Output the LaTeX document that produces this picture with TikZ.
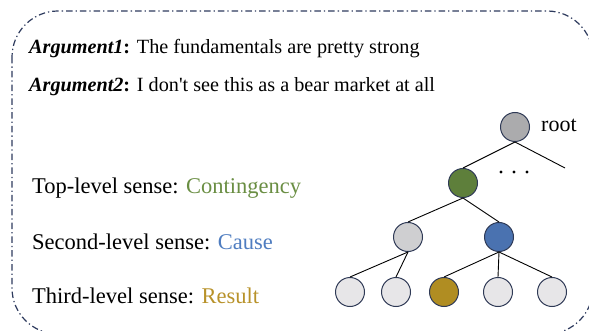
\documentclass[tikz,border=0pt]{standalone}
\usepackage{fontspec}
\setmainfont{Liberation Serif}
\newfontfamily\plainserif{Liberation Serif}
\definecolor{bordercol}{HTML}{2E3B5E}
\definecolor{nodeline}{HTML}{2F3A56}
\definecolor{rootfill}{HTML}{ABABAD}
\definecolor{greenfill}{HTML}{5E7F3B}
\definecolor{midgray}{HTML}{CFCFD1}
\definecolor{bluefill}{HTML}{4A72B0}
\definecolor{goldfill}{HTML}{B08D22}
\definecolor{leaffill}{HTML}{E7E6E8}
\definecolor{conttext}{HTML}{6A8E43}
\definecolor{causetext}{HTML}{4F7DC0}
\definecolor{resulttext}{HTML}{B8922A}
\tikzset{
  framebox/.style={draw=bordercol, line width=1.2pt, rounded corners=46pt,
    dash pattern=on 6.5pt off 3pt on 1.3pt off 3pt},
  treenode/.style={circle, draw=nodeline, line width=1pt, minimum size=29pt, inner sep=0pt},
  edge/.style={draw=black, line width=0.9pt},
  argtext/.style={anchor=base west, inner sep=0pt, font=\fontsize{20.2}{24}\selectfont},
  senselabel/.style={anchor=base west, inner sep=0pt, font=\fontsize{22.5}{27}\selectfont},
}
\begin{document}
\begin{tikzpicture}[x=1pt,y=-1pt]
\useasboundingbox (0,0) rectangle (589,331);
\draw[framebox] (12,11) rectangle (593,334);

\node[argtext] (arg1) at (29,54) {\textbf{\textit{Argument1}}\textbf{:} The fundamentals are pretty strong};
\node[argtext] (arg2) at (29,92) {\textbf{\textit{Argument2}}\textbf{:} {\plainserif I don't see this as a bear market at all}};

\node[senselabel] (top) at (32,194) {Top-level sense: \textcolor{conttext}{Contingency}};
\node[senselabel] (second) at (32,249) {Second-level sense: \textcolor{causetext}{Cause}};
\node[senselabel] (third) at (32,303) {Third-level sense: \textcolor{resulttext}{Result}};

\node[treenode, fill=rootfill] (root) at (515,127) {};
\node[anchor=base west, inner sep=0pt, font=\fontsize{22}{26}\selectfont] (rootlbl) at (541,132) {root};
\node[treenode, fill=greenfill] (green) at (463,183) {};
\node[treenode, fill=midgray] (gray2) at (408,237) {};
\node[treenode, fill=bluefill] (blue) at (499,237) {};
\node[treenode, fill=leaffill] (l1) at (350,292) {};
\node[treenode, fill=leaffill] (l2) at (396,292) {};
\node[treenode, fill=goldfill] (l3) at (444,292) {};
\node[treenode, fill=leaffill] (l4) at (498,292) {};
\node[treenode, fill=leaffill] (l5) at (552,292) {};
\coordinate (rootright) at (565,168);

\draw[edge] (root.south) -- (green.north);
\draw[edge] (root.south) -- (rootright);
\draw[edge] (green.south) -- (gray2.north);
\draw[edge] (green.south) -- (blue.north);
\draw[edge] (gray2.south) -- (l1.north);
\draw[edge] (gray2.south) -- (l2.north);
\draw[edge] (blue.south) -- (l3.north);
\draw[edge] (blue.south) -- (l4.north);
\draw[edge] (blue.south) -- (l5.north);

\foreach \dx in {501,514,527} \fill[black] (\dx,172) circle (1.6pt);
\end{tikzpicture}
\end{document}
